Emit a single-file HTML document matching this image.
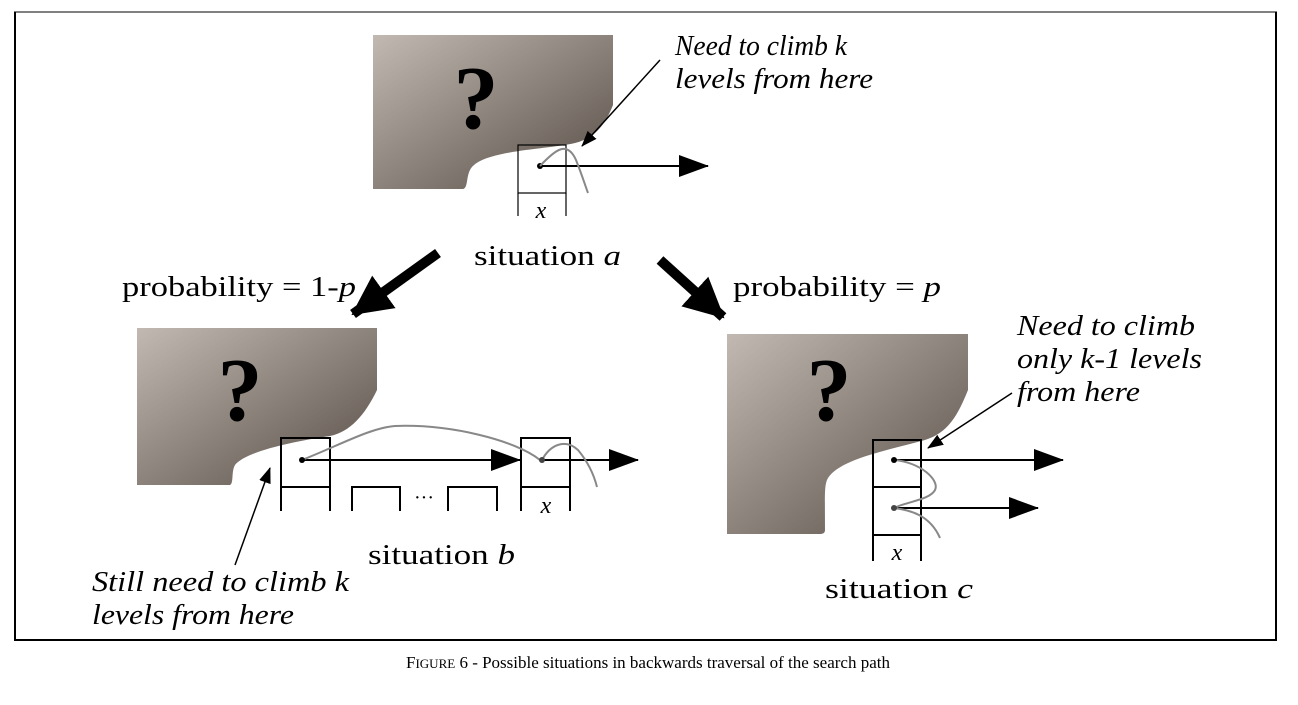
<!DOCTYPE html>
<html><head><style>
body{margin:0;background:#fff;}
svg text{font-family:"Liberation Serif",serif;}
</style></head><body>
<svg width="1298" height="700" viewBox="0 0 1298 700" xmlns="http://www.w3.org/2000/svg">
<defs>
<linearGradient id="g" x1="0" y1="0" x2="1" y2="1">
<stop offset="0" stop-color="#c2bab2"/><stop offset="1" stop-color="#564c45"/>
</linearGradient>
<marker id="big" markerWidth="30" markerHeight="22" refX="29" refY="11" orient="auto" markerUnits="userSpaceOnUse" viewBox="0 0 30 22">
<path d="M0,0 L30,11 L0,22 z" fill="#000"/></marker>
<marker id="huge" markerWidth="40" markerHeight="40" refX="38" refY="20" orient="auto" markerUnits="userSpaceOnUse" viewBox="0 0 40 40">
<path d="M0,0 L40,20 L0,40 z" fill="#000"/></marker>
<marker id="sm" markerWidth="16" markerHeight="12" refX="15" refY="6" orient="auto" markerUnits="userSpaceOnUse" viewBox="0 0 16 12">
<path d="M0,0 L16,6 L0,12 z" fill="#000"/></marker>
</defs>
<line x1="14" y1="12" x2="1277" y2="12" stroke="#000" stroke-width="1"/>
<line x1="15" y1="12" x2="15" y2="641" stroke="#000" stroke-width="2"/>
<line x1="1276" y1="12" x2="1276" y2="641" stroke="#000" stroke-width="2"/>
<line x1="14" y1="640" x2="1277" y2="640" stroke="#000" stroke-width="2"/>

<!-- situation a -->
<path d="M373,35 L613,35 L613,105 C605,125 595,138 575,143 C545,150 480,150 470,170 C466,178 468,188 463,189 L373,189 Z" fill="url(#g)"/>
<text x="476" y="128" font-size="90" font-weight="bold" text-anchor="middle">?</text>
<rect x="518" y="145" width="48" height="48" fill="none" stroke="#000" stroke-width="1.2"/>
<line x1="518" y1="193" x2="518" y2="216" stroke="#000" stroke-width="1.2"/>
<line x1="566" y1="193" x2="566" y2="216" stroke="#000" stroke-width="1.2"/>
<text x="541" y="218" font-size="24" font-style="italic" text-anchor="middle">x</text>
<line x1="540" y1="166" x2="708" y2="166" stroke="#000" stroke-width="2" marker-end="url(#big)"/>
<circle cx="540" cy="166" r="3" fill="#000"/>
<path d="M540,166 C555,150 567,140 576,160 C582,175 585,185 588,193" fill="none" stroke="#888" stroke-width="2"/>
<line x1="660" y1="60" x2="582" y2="146" stroke="#000" stroke-width="1.5" marker-end="url(#sm)"/>
<text x="675" y="55" font-size="28" font-style="italic" textLength="172" lengthAdjust="spacingAndGlyphs">Need to climb k</text>
<text x="675" y="88" font-size="28" font-style="italic" textLength="198" lengthAdjust="spacingAndGlyphs">levels from here</text>
<text x="474" y="265" font-size="29" textLength="147" lengthAdjust="spacingAndGlyphs">situation <tspan font-style="italic">a</tspan></text>

<line x1="438" y1="253" x2="353" y2="314" stroke="#000" stroke-width="10" marker-end="url(#huge)"/>
<line x1="660" y1="260" x2="723" y2="317" stroke="#000" stroke-width="10" marker-end="url(#huge)"/>
<text x="122" y="296" font-size="29" textLength="234" lengthAdjust="spacingAndGlyphs">probability = 1-<tspan font-style="italic">p</tspan></text>
<text x="733" y="296" font-size="29" textLength="208" lengthAdjust="spacingAndGlyphs">probability = <tspan font-style="italic">p</tspan></text>

<!-- situation b -->
<path d="M137,328 L377,328 L377,390 C365,415 350,432 330,436 C290,442 245,452 235,465 C231,472 234,483 230,485 L137,485 Z" fill="url(#g)"/>
<text x="240" y="420" font-size="90" font-weight="bold" text-anchor="middle">?</text>
<g stroke="#000" stroke-width="2" fill="none">
<rect x="281" y="438" width="49" height="49"/>
<line x1="281" y1="487" x2="281" y2="511"/><line x1="330" y1="487" x2="330" y2="511"/>
<path d="M352,511 L352,487 L400,487 L400,511"/>
<path d="M448,511 L448,487 L497,487 L497,511"/>
<rect x="521" y="438" width="49" height="49"/>
<line x1="521" y1="487" x2="521" y2="511"/><line x1="570" y1="487" x2="570" y2="511"/>
</g>
<text x="424" y="504" font-size="20" text-anchor="middle">···</text>
<text x="546" y="513" font-size="24" font-style="italic" text-anchor="middle">x</text>
<line x1="302" y1="460" x2="520" y2="460" stroke="#000" stroke-width="2" marker-end="url(#big)"/>
<line x1="542" y1="460" x2="638" y2="460" stroke="#000" stroke-width="2" marker-end="url(#big)"/>
<path d="M302,460 C340,445 370,428 395,426 C450,424 515,440 540,460" fill="none" stroke="#888" stroke-width="2"/>
<path d="M542,460 C550,445 565,438 578,450 C588,462 594,475 597,487" fill="none" stroke="#888" stroke-width="2"/>
<circle cx="302" cy="460" r="3" fill="#000"/><circle cx="542" cy="460" r="3" fill="#444"/>
<line x1="235" y1="565" x2="270" y2="468" stroke="#000" stroke-width="1.5" marker-end="url(#sm)"/>
<text x="368" y="564" font-size="29" textLength="147" lengthAdjust="spacingAndGlyphs">situation <tspan font-style="italic">b</tspan></text>
<text x="92" y="591" font-size="28" font-style="italic" textLength="257" lengthAdjust="spacingAndGlyphs">Still need to climb k</text>
<text x="92" y="624" font-size="28" font-style="italic" textLength="202" lengthAdjust="spacingAndGlyphs">levels from here</text>

<!-- situation c -->
<path d="M727,334 L968,334 L968,390 C958,415 948,433 925,440 C880,452 840,460 828,478 C824,485 825,495 825,530 C825,533 823,534 820,534 L727,534 Z" fill="url(#g)"/>
<text x="829" y="420" font-size="90" font-weight="bold" text-anchor="middle">?</text>
<g stroke="#000" stroke-width="2" fill="none">
<rect x="873" y="440" width="48" height="47"/>
<rect x="873" y="487" width="48" height="48"/>
<line x1="873" y1="535" x2="873" y2="561"/><line x1="921" y1="535" x2="921" y2="561"/>
</g>
<text x="897" y="560" font-size="24" font-style="italic" text-anchor="middle">x</text>
<line x1="894" y1="460" x2="1063" y2="460" stroke="#000" stroke-width="2" marker-end="url(#big)"/>
<line x1="894" y1="508" x2="1038" y2="508" stroke="#000" stroke-width="2" marker-end="url(#big)"/>
<path d="M894,460 C920,462 940,480 935,490 C930,500 905,502 894,508 C910,510 930,515 940,538" fill="none" stroke="#888" stroke-width="2"/>
<circle cx="894" cy="460" r="3" fill="#000"/><circle cx="894" cy="508" r="3" fill="#444"/>
<line x1="1012" y1="393" x2="928" y2="448" stroke="#000" stroke-width="1.5" marker-end="url(#sm)"/>
<text x="1017" y="335" font-size="28" font-style="italic" textLength="178" lengthAdjust="spacingAndGlyphs">Need to climb</text>
<text x="1017" y="368" font-size="28" font-style="italic" textLength="185" lengthAdjust="spacingAndGlyphs">only k-1 levels</text>
<text x="1017" y="401" font-size="28" font-style="italic" textLength="123" lengthAdjust="spacingAndGlyphs">from here</text>
<text x="825" y="598" font-size="29" textLength="148" lengthAdjust="spacingAndGlyphs">situation <tspan font-style="italic">c</tspan></text>

<text x="648" y="668" font-size="17" text-anchor="middle">F<tspan font-size="13">IGURE</tspan> 6 - Possible situations in backwards traversal of the search path</text>
</svg>
</body></html>
